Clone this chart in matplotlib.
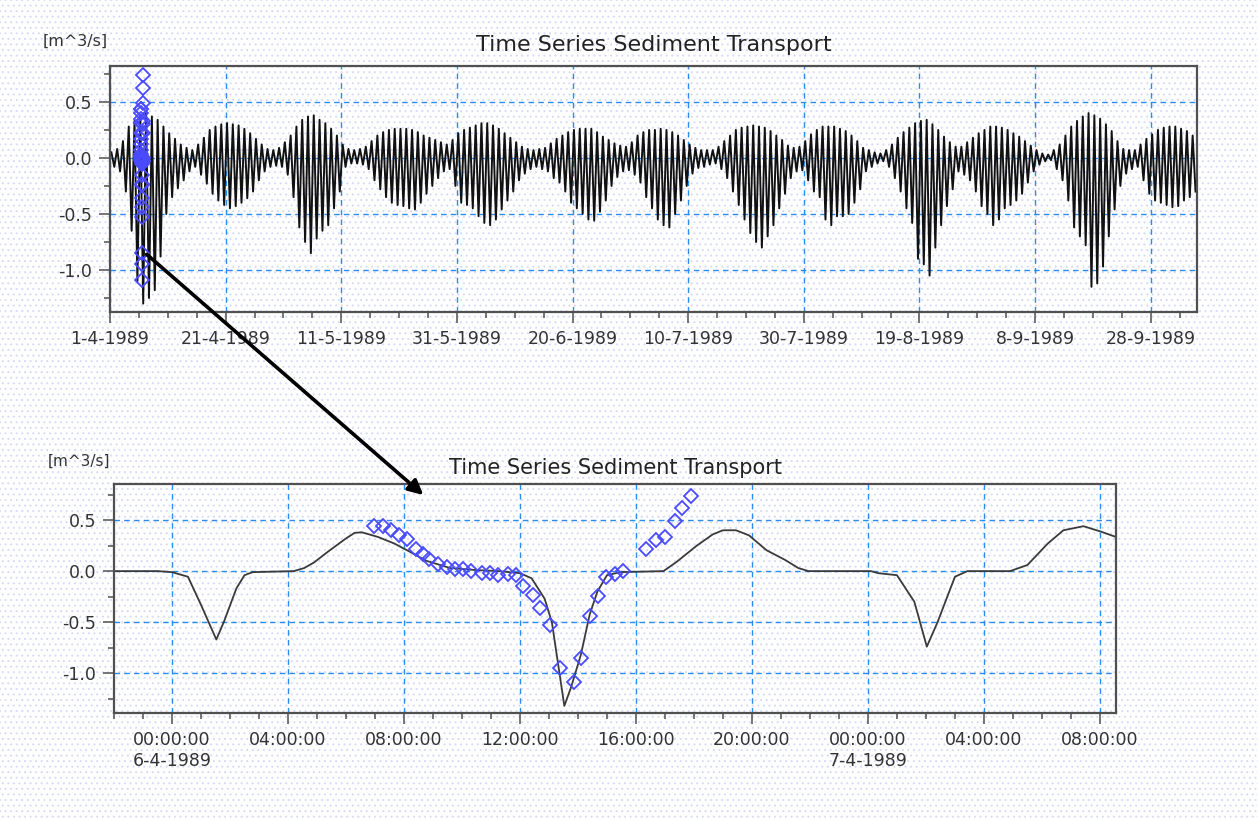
import datetime as dt
import matplotlib
matplotlib.use("Agg")
import matplotlib.pyplot as plt
import matplotlib.dates as mdates
from matplotlib.patches import Rectangle, ConnectionPatch
from matplotlib.ticker import FixedLocator, MultipleLocator, FuncFormatter

plt.rcParams["font.family"] = "DejaVu Sans"
plt.rcParams["axes.unicode_minus"] = False
plt.rcParams["hatch.linewidth"] = 0.7

START = dt.datetime(1989, 4, 1)
DAY0 = dt.datetime(1989, 4, 6)

# dagelijkse top / dal van het transport, 1-4-1989 t/m 5-10-1989 (m^3/s)
daily_hi = [
    0.05, 0.08, 0.15, 0.28, 0.33, 0.38, 0.40, 0.37, 0.34, 0.28,
    0.22, 0.17, 0.12, 0.09, 0.07, 0.12, 0.18, 0.25, 0.28, 0.30,
    0.31, 0.30, 0.29, 0.26, 0.22, 0.17, 0.12, 0.08, 0.07, 0.09,
    0.14, 0.20, 0.28, 0.34, 0.37, 0.38, 0.34, 0.31, 0.26, 0.20,
    0.12, 0.08, 0.07, 0.08, 0.10, 0.15, 0.20, 0.23, 0.25, 0.26,
    0.26, 0.26, 0.25, 0.23, 0.20, 0.18, 0.16, 0.14, 0.12, 0.16,
    0.22, 0.25, 0.27, 0.29, 0.31, 0.31, 0.29, 0.26, 0.22, 0.18,
    0.14, 0.10, 0.08, 0.07, 0.08, 0.09, 0.13, 0.17, 0.20, 0.23,
    0.25, 0.26, 0.26, 0.26, 0.23, 0.19, 0.16, 0.13, 0.11, 0.10,
    0.14, 0.20, 0.23, 0.25, 0.25, 0.26, 0.25, 0.23, 0.20, 0.16,
    0.12, 0.09, 0.07, 0.07, 0.07, 0.10, 0.15, 0.20, 0.25, 0.27,
    0.28, 0.29, 0.28, 0.27, 0.24, 0.20, 0.16, 0.11, 0.09, 0.10,
    0.15, 0.21, 0.25, 0.28, 0.28, 0.28, 0.26, 0.24, 0.20, 0.15,
    0.09, 0.07, 0.05, 0.04, 0.07, 0.12, 0.18, 0.23, 0.27, 0.31,
    0.33, 0.34, 0.30, 0.25, 0.19, 0.14, 0.10, 0.10, 0.14, 0.18,
    0.22, 0.25, 0.28, 0.28, 0.27, 0.25, 0.22, 0.19, 0.15, 0.11,
    0.07, 0.04, 0.03, 0.07, 0.12, 0.20, 0.28, 0.33, 0.37, 0.40,
    0.38, 0.35, 0.30, 0.24, 0.15, 0.08, 0.07, 0.07, 0.12, 0.17,
    0.21, 0.25, 0.27, 0.28, 0.28, 0.26, 0.24, 0.20,
]
daily_lo = [
    -0.08, -0.12, -0.30, -0.65, -1.10, -1.30, -1.25, -1.18, -0.88, -0.50,
    -0.35, -0.27, -0.20, -0.12, -0.08, -0.15, -0.23, -0.32, -0.38, -0.42,
    -0.45, -0.43, -0.40, -0.36, -0.30, -0.20, -0.12, -0.08, -0.07, -0.08,
    -0.15, -0.35, -0.62, -0.75, -0.85, -0.72, -0.65, -0.60, -0.45, -0.30,
    -0.08, -0.05, -0.05, -0.06, -0.10, -0.20, -0.28, -0.35, -0.40, -0.42,
    -0.43, -0.45, -0.46, -0.40, -0.32, -0.25, -0.18, -0.12, -0.10, -0.25,
    -0.40, -0.42, -0.45, -0.52, -0.58, -0.60, -0.55, -0.46, -0.38, -0.30,
    -0.20, -0.14, -0.10, -0.08, -0.10, -0.12, -0.18, -0.22, -0.30, -0.40,
    -0.45, -0.50, -0.55, -0.56, -0.48, -0.38, -0.25, -0.17, -0.12, -0.11,
    -0.15, -0.22, -0.35, -0.45, -0.55, -0.60, -0.62, -0.50, -0.38, -0.25,
    -0.14, -0.09, -0.08, -0.06, -0.05, -0.10, -0.18, -0.30, -0.42, -0.55,
    -0.67, -0.75, -0.80, -0.70, -0.60, -0.45, -0.32, -0.18, -0.12, -0.11,
    -0.20, -0.30, -0.35, -0.55, -0.60, -0.52, -0.52, -0.50, -0.40, -0.28,
    -0.12, -0.08, -0.05, -0.03, -0.08, -0.18, -0.30, -0.45, -0.58, -0.90,
    -0.95, -1.05, -0.80, -0.60, -0.43, -0.28, -0.12, -0.15, -0.20, -0.30,
    -0.43, -0.50, -0.60, -0.55, -0.45, -0.42, -0.38, -0.32, -0.22, -0.12,
    -0.06, -0.03, -0.02, -0.10, -0.20, -0.38, -0.62, -0.70, -0.78, -1.15,
    -1.12, -0.97, -0.70, -0.46, -0.25, -0.14, -0.10, -0.08, -0.20, -0.32,
    -0.38, -0.40, -0.42, -0.44, -0.43, -0.38, -0.35, -0.30,
]

# detail 5-4 22:00 .. 7-4 08:30, uren t.o.v. 6-4-1989 00:00
zoom_hours = [
    -2.0, -0.5, 0.0, 0.55, 1.0, 1.53, 1.8, 2.22, 2.5, 2.78, 4.2, 4.56,
    4.9, 5.4, 6.0, 6.3, 6.55, 7.1, 7.67, 8.2, 8.78, 9.6, 10.5, 11.26,
    12.0, 12.4, 12.85, 13.1, 13.3, 13.53, 13.76, 14.1, 14.4, 14.67, 15.0,
    15.47, 16.95, 17.4, 18.1, 18.65, 19.0, 19.45, 19.9, 20.5, 21.14, 21.6,
    21.95, 24.1, 24.35, 25.0, 25.6, 26.03, 26.4, 27.0, 27.43, 28.9, 29.5,
    30.2, 30.74, 31.43, 32.0, 32.6,
]
zoom_values = [
    0.0, 0.0, -0.01, -0.055, -0.33, -0.67, -0.49, -0.17, -0.04, -0.01, 0.0, 0.03,
    0.085, 0.195, 0.32, 0.375, 0.38, 0.335, 0.27, 0.19, 0.10, 0.03, 0.01, 0.0,
    -0.02, -0.07, -0.27, -0.5, -0.88, -1.32, -1.14, -0.82, -0.43, -0.2, -0.04,
    -0.01, 0.0, 0.09, 0.25, 0.36, 0.4, 0.4, 0.35, 0.205, 0.11, 0.03,
    0.0, 0.0, -0.02, -0.04, -0.3, -0.74, -0.5, -0.055, 0.0, 0.0, 0.06,
    0.27, 0.4, 0.44, 0.39, 0.33,
]

# metingen 6-4-1989
meas_hours = [
    6.95, 7.27, 7.56, 7.84, 8.09, 8.4, 8.65, 8.87, 9.18, 9.49, 9.75, 10.03,
    10.32, 10.7, 10.96, 11.23, 11.58, 11.86, 12.12, 12.44, 12.7, 13.03, 13.37,
    13.87, 14.11, 14.4, 14.68, 14.97, 15.27, 15.56, 16.35, 16.7, 17.0, 17.34,
    17.6, 17.9,
]
meas_values = [
    0.44, 0.44, 0.40, 0.35, 0.31, 0.22, 0.17, 0.12, 0.07, 0.038, 0.016, 0.016,
    0.0, -0.015, -0.015, -0.035, -0.025, -0.035, -0.15, -0.23, -0.36, -0.53, -0.95,
    -1.085, -0.85, -0.44, -0.24, -0.058, -0.025, 0.0, 0.22, 0.30, 0.33, 0.49,
    0.62, 0.74,
]

GRID_BLUE = "#2b8cf0"
MARK_BLUE = "#4a4aff"
TXT = "#333333"

# zigzag: top halverwege de ochtend, dal halverwege de middag
t_long, v_long = [], []
for d, (hi, lo) in enumerate(zip(daily_hi, daily_lo)):
    t_long += [START + dt.timedelta(days=d, hours=6), START + dt.timedelta(days=d, hours=18)]
    v_long += [hi, lo]

t_zoom = [DAY0 + dt.timedelta(hours=h) for h in zoom_hours]
t_meas = [DAY0 + dt.timedelta(hours=h) for h in meas_hours]

fig = plt.figure(figsize=(12.58, 8.19), dpi=100)
fig.patch.set_facecolor("white")
fig.add_artist(Rectangle((0, 0), 1, 1, transform=fig.transFigure, facecolor="white",
                         edgecolor="#d6daf6", hatch="...", lw=0, zorder=-5))

ax1 = fig.add_axes([0.0874, 0.6190, 0.8641, 0.3004])
ax2 = fig.add_axes([0.0906, 0.1294, 0.7969, 0.2796])


def style(ax):
    ax.set_facecolor("none")
    ax.set_axisbelow(True)
    ax.grid(True, which="major", color=GRID_BLUE, ls=(0, (4, 3)), lw=1.0)
    for s in ax.spines.values():
        s.set_color("#505050")
        s.set_linewidth(1.6)
    ax.tick_params(which="major", direction="out", length=8, width=1.1, color="#505050",
                   labelsize=12.5, labelcolor=TXT, pad=5)
    ax.tick_params(which="minor", direction="out", length=4, width=1.1, color="#505050")
    ax.yaxis.set_major_locator(FixedLocator([-1.0, -0.5, 0.0, 0.5]))
    ax.yaxis.set_minor_locator(MultipleLocator(0.25))
    ax.yaxis.set_major_formatter(FuncFormatter(lambda v, p: f"{v:.1f}"))


# bovenste paneel: hele periode
style(ax1)
ax1.plot(t_long, v_long, color="#111111", lw=1.4)
ax1.plot(t_meas, meas_values, ls="none", marker="D", ms=7, mfc="none", mec=MARK_BLUE, mew=1.3)
ax1.set_xlim(START, START + dt.timedelta(days=188))
ax1.set_ylim(-1.375, 0.82)
major1 = [mdates.date2num(START + dt.timedelta(days=20 * k)) for k in range(10)]
minor1 = [mdates.date2num(START + dt.timedelta(days=5 * k)) for k in range(38)]
ax1.xaxis.set_major_locator(FixedLocator(major1))
ax1.xaxis.set_minor_locator(FixedLocator(minor1))
ax1.xaxis.set_major_formatter(FuncFormatter(
    lambda x, p: (lambda d: f"{d.day}-{d.month}-{d.year}")(mdates.num2date(x))))
ax1.set_title("Time Series Sediment Transport", fontsize=16, color="#222222", pad=11)
ax1.text(-0.002, 1.10, "[m^3/s]", transform=ax1.transAxes, ha="right", va="center",
         fontsize=11.5, color=TXT)

# onderste paneel: detail
style(ax2)
ax2.plot(t_zoom, zoom_values, color="#3a3a3a", lw=1.3)
ax2.plot(t_meas, meas_values, ls="none", marker="D", ms=7, mfc="none", mec=MARK_BLUE, mew=1.3)
ax2.set_xlim(DAY0 - dt.timedelta(hours=2), DAY0 + dt.timedelta(hours=32.57))
ax2.set_ylim(-1.39, 0.853)
major2 = [mdates.date2num(DAY0 + dt.timedelta(hours=4 * k)) for k in range(9)]
minor2 = [mdates.date2num(DAY0 + dt.timedelta(hours=k)) for k in range(-2, 33)]
ax2.xaxis.set_major_locator(FixedLocator(major2))
ax2.xaxis.set_minor_locator(FixedLocator(minor2))


def fmt2(x, p):
    d = mdates.num2date(x)
    s = f"{d:%H:%M:%S}"
    if d.hour == 0 and d.minute == 0:
        s += f"\n{d.day}-{d.month}-{d.year}"
    return s


ax2.xaxis.set_major_formatter(FuncFormatter(fmt2))
ax2.set_title("Time Series Sediment Transport", fontsize=15, color="#222222", pad=7)
ax2.text(-0.004, 1.10, "[m^3/s]", transform=ax2.transAxes, ha="right", va="center",
         fontsize=11, color=TXT)

# pijl van de meting boven naar het detail
arrow = ConnectionPatch(
    xyA=(mdates.date2num(START + dt.timedelta(days=6.35)), -0.86), coordsA=ax1.transData,
    xyB=(mdates.date2num(DAY0 + dt.timedelta(hours=8.67)), 0.745), coordsB=ax2.transData,
    arrowstyle="-|>", mutation_scale=22, lw=2.6, color="black", zorder=10)
fig.add_artist(arrow)

fig.savefig("out.png", dpi=100)
